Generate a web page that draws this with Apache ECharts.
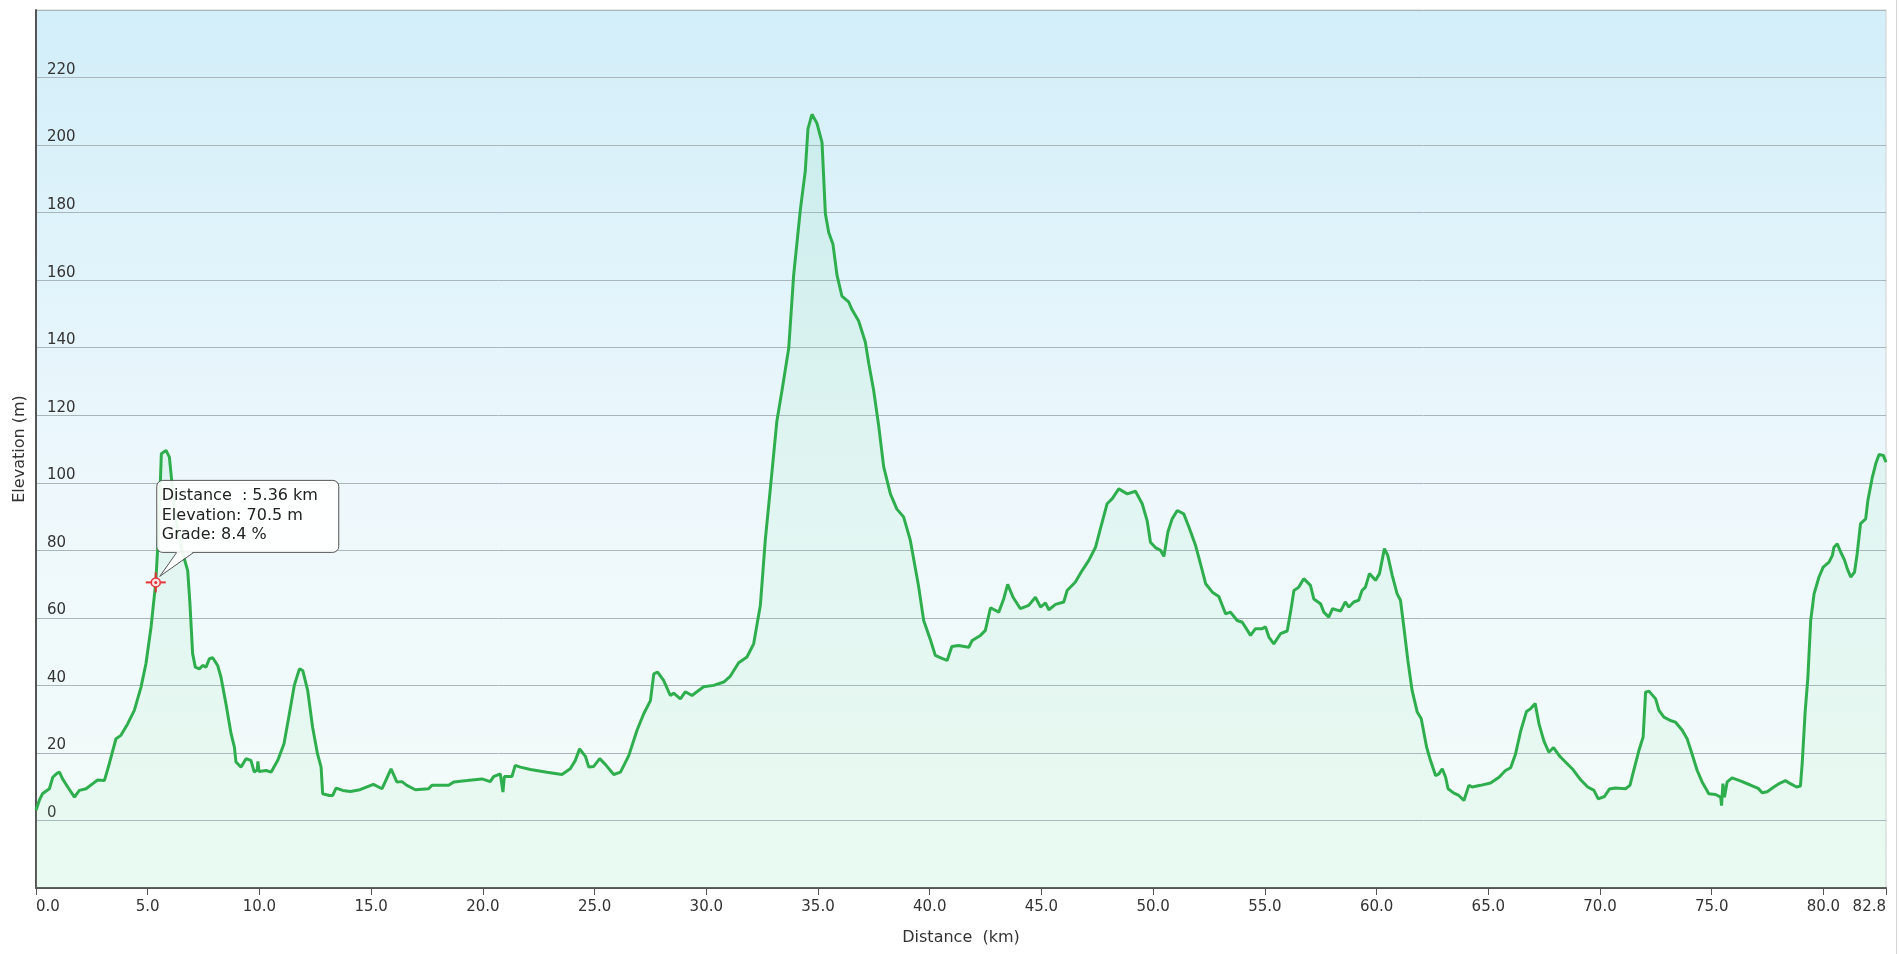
<!DOCTYPE html>
<html>
<head>
<meta charset="utf-8">
<title>Elevation profile</title>
<script src="https://cdn.jsdelivr.net/npm/echarts@6.0.0/dist/echarts.min.js"></script>
<style>
  html, body { margin: 0; padding: 0; background: #fff; }
  #main { width: 1900px; height: 954px; }
</style>
</head>
<body>
<div id="main"></div>
<script>
// distance along the route (km) and elevation (m)
const distanceKm = [
  0, 0.15, 0.3, 0.6, 0.75, 0.95, 1.05, 1.19, 1.42, 1.72, 1.94, 2.24, 2.54, 2.76, 3.06, 3.28, 3.58, 3.8, 4.1, 4.4,
  4.7, 4.92, 5.15, 5.36, 5.49, 5.61, 5.82, 5.97, 6.09, 6.2, 6.4, 6.57, 6.79, 6.89, 7.01, 7.13, 7.31, 7.46, 7.61, 7.76,
  7.91, 8.13, 8.28, 8.5, 8.73, 8.88, 8.95, 9.18, 9.4, 9.62, 9.77, 9.9, 9.93, 9.98, 10.3, 10.52, 10.82, 11.1, 11.34, 11.56,
  11.79, 11.94, 12.16, 12.38, 12.6, 12.76, 12.83, 13.13, 13.28, 13.43, 13.73, 14.07, 14.5, 15.1, 15.49, 15.89, 16.15, 16.38, 16.6, 16.98,
  17.57, 17.72, 18.47, 18.7, 19.29, 19.96, 20.33, 20.48, 20.78, 20.9, 20.96, 21.3, 21.45, 21.68, 22.13, 22.87, 23.54, 23.91, 24.14, 24.33,
  24.59, 24.74, 24.96, 25.23, 25.48, 25.86, 26.16, 26.53, 26.9, 27.2, 27.5, 27.65, 27.82, 28.09, 28.39, 28.54, 28.84, 29.06, 29.36, 29.58,
  29.88, 30.33, 30.78, 31.07, 31.45, 31.82, 32.12, 32.42, 32.64, 32.86, 33.16, 33.39, 33.69, 33.91, 34.21, 34.43, 34.55, 34.73, 34.95, 35.18,
  35.33, 35.48, 35.67, 35.85, 36.07, 36.37, 36.52, 36.82, 37.12, 37.27, 37.49, 37.71, 37.94, 38.24, 38.53, 38.83, 39.13, 39.5, 39.73, 40.03,
  40.25, 40.55, 40.78, 40.99, 41.29, 41.75, 41.9, 42.27, 42.49, 42.72, 43.09, 43.31, 43.49, 43.73, 44.06, 44.43, 44.73, 44.96, 45.18, 45.33,
  45.63, 46.0, 46.15, 46.52, 46.82, 47.12, 47.42, 47.64, 47.94, 48.17, 48.46, 48.84, 49.21, 49.51, 49.73, 49.88, 50.1, 50.33, 50.48, 50.66,
  50.85, 51.08, 51.37, 51.6, 51.9, 52.12, 52.35, 52.65, 52.94, 53.24, 53.46, 53.76, 53.99, 54.36, 54.58, 54.88, 55.03, 55.18, 55.4, 55.7,
  56.0, 56.15, 56.3, 56.52, 56.74, 57.04, 57.19, 57.49, 57.64, 57.86, 58.03, 58.39, 58.6, 58.76, 58.98, 59.2, 59.35, 59.5, 59.68, 59.95,
  60.13, 60.35, 60.5, 60.7, 60.92, 61.07, 61.22, 61.4, 61.59, 61.82, 62.0, 62.24, 62.41, 62.64, 62.79, 62.94, 63.09, 63.2, 63.46, 63.68,
  63.91, 64.13, 64.28, 64.65, 65.1, 65.48, 65.77, 66.0, 66.22, 66.45, 66.71, 66.89, 67.1, 67.27, 67.49, 67.71, 67.92, 68.2, 68.53, 68.8,
  69.1, 69.45, 69.73, 69.92, 70.2, 70.42, 70.69, 71.14, 71.34, 71.51, 71.74, 71.93, 72.04, 72.19, 72.49, 72.64, 72.86, 73.15, 73.38, 73.68,
  73.9, 74.12, 74.35, 74.57, 74.87, 75.17, 75.4, 75.44, 75.5, 75.57, 75.69, 75.91, 76.28, 76.73, 77.08, 77.26, 77.48, 77.78, 78.04, 78.3,
  78.52, 78.8, 78.97, 79.05, 79.18, 79.3, 79.43, 79.58, 79.8, 79.99, 80.25, 80.4, 80.47, 80.62, 80.77, 80.95, 81.07, 81.22, 81.39, 81.51,
  81.66, 81.89, 81.99, 82.19, 82.34, 82.49, 82.68, 82.8
];
const elevationM = [
  3, 6, 8, 9.4, 12.8, 14.0, 14.3, 12.3, 9.9, 6.9, 8.9, 9.4, 10.9, 12.0, 11.8, 16.8, 24.2, 25.2, 28.6, 32.6,
  39.5, 46.4, 57.3, 70.5, 85.9, 108.6, 109.6, 107.6, 99.5, 92, 84, 79, 74, 64.2, 49.4, 45.4, 44.9, 45.9, 45.4, 47.9,
  48.2, 45.9, 42.4, 34.6, 25.7, 21.7, 17.3, 15.8, 18.3, 17.8, 14.3, 15, 17.5, 14.5, 14.8, 14.3, 17.8, 22.7, 31.6, 40.0,
  44.9, 44.4, 38.5, 27.6, 19.7, 15.8, 7.9, 7.4, 7.4, 9.6, 8.9, 8.6, 9.1, 10.7, 9.4, 15.3, 11.4, 11.5, 10.4, 9.1,
  9.4, 10.4, 10.4, 11.4, 11.8, 12.3, 11.5, 13.0, 13.8, 8.4, 13.0, 13.0, 16.3, 15.8, 15.1, 14.3, 13.6, 15.3, 17.8, 21.2,
  19.0, 15.8, 16.0, 18.3, 16.6, 13.6, 14.3, 19.2, 26.7, 31.6, 35.5, 43.4, 43.9, 41.5, 37.0, 37.7, 36.0, 38.1, 37.0, 38.1,
  39.6, 40, 41.0, 42.7, 46.7, 48.4, 52.3, 63.7, 83.0, 97.8, 118.3, 127.4, 139.9, 161.5, 180.9, 192.3, 204.8, 209.1, 206.5, 200.8,
  179.7, 174.1, 170.6, 161.5, 155.3, 153.6, 151.3, 147.9, 141.6, 135.4, 127.4, 117.2, 104.7, 96.7, 92.2, 89.9, 83.0, 69.4, 59.2, 53.5,
  48.9, 48.0, 47.4, 51.5, 51.8, 51.3, 53.3, 54.8, 56.3, 63.0, 61.7, 65.6, 69.9, 66.1, 62.7, 63.7, 66.1, 63.2, 64.4, 62.4,
  64.0, 64.7, 68.1, 70.6, 74.0, 77.0, 80.9, 86.4, 93.8, 95.3, 98.2, 96.7, 97.5, 93.8, 88.8, 82.4, 80.8, 80.0, 78.2, 85.4,
  89.3, 91.8, 90.8, 86.9, 81.4, 76.0, 70.1, 67.6, 66.3, 61.2, 61.7, 59.2, 58.7, 54.8, 56.8, 56.8, 57.3, 54.3, 52.3, 55.3,
  56.1, 61.7, 68.1, 69.1, 71.6, 69.6, 65.6, 64.2, 61.7, 60.2, 62.7, 62.0, 64.7, 63.2, 64.7, 65.2, 68.1, 69.1, 73.1, 71.1,
  73.1, 80.5, 78.5, 72.6, 67.1, 65.2, 57.3, 47.4, 38.5, 32.1, 30.1, 21.7, 17.8, 13.3, 13.8, 15.3, 12.8, 9.4, 8.1, 7.4,
  5.9, 10.4, 9.9, 10.4, 11.1, 12.8, 14.8, 15.6, 19.7, 26.5, 32.3, 33.1, 34.6, 28.6, 23.5, 20.2, 21.6, 19.0, 16.8, 15.0,
  12.3, 9.9, 8.9, 6.4, 7.1, 9.3, 9.6, 9.4, 10.4, 14.8, 20.7, 24.7, 38.0, 38.3, 36.0, 32.6, 30.6, 29.6, 29.1, 26.7,
  24.2, 19.7, 14.8, 11.4, 7.9, 7.7, 6.9, 4.4, 10.9, 6.9, 11.4, 12.6, 11.7, 10.5, 9.5, 8.2, 8.5, 9.9, 11.0, 11.8,
  10.9, 9.9, 10.2, 17, 32, 42, 59.2, 67.1, 72.1, 75.0, 76.5, 78.5, 80.9, 81.9, 79.5, 77.0, 74.5, 72.1, 73.5, 79.0,
  87.9, 89.3, 94.8, 101.7, 105.6, 108.4, 108.1, 106.1
];

// hover readout shown on the chart
const tipDistance = 5.36;
const tipElevation = 70.5;
const tipGrade = 8.4;

const FONT = 'DejaVu Sans, Verdana, sans-serif';
const chart = echarts.init(document.getElementById('main'));

chart.setOption({
  animation: false,
  backgroundColor: '#fff',
  textStyle: { fontFamily: FONT },
  grid: {
    left: 36, right: 14, top: 10, bottom: 66,
    show: true,
    borderColor: '#cfcfcf',
    borderWidth: 1,
    backgroundColor: new echarts.graphic.LinearGradient(0, 0, 0, 1, [
      { offset: 0, color: '#d2eef9' },
      { offset: 0.55, color: '#eef8fc' },
      { offset: 1, color: '#f3fcf8' }
    ])
  },
  xAxis: {
    type: 'value',
    min: 0,
    max: 82.8,
    interval: 5,
    name: 'Distance  (km)',
    nameLocation: 'middle',
    nameGap: 42,
    nameTextStyle: { fontSize: 16, color: '#333', fontFamily: FONT },
    axisLine: { show: true, onZero: false, lineStyle: { color: '#555', width: 2 } },
    axisTick: { show: true, length: 7, lineStyle: { color: '#555', width: 1 } },
    axisLabel: {
      fontSize: 15, color: '#333', margin: 12, fontFamily: FONT,
      showMaxLabel: true,
      alignMinLabel: 'left',
      alignMaxLabel: 'right',
      formatter: v => v.toFixed(1)
    },
    splitLine: { show: false }
  },
  yAxis: {
    type: 'value',
    min: -20,
    max: 240,
    interval: 20,
    name: 'Elevation (m)',
    nameLocation: 'middle',
    nameGap: 6,
    nameRotate: 90,
    nameTextStyle: { fontSize: 16, color: '#333', fontFamily: FONT },
    axisLine: { show: true, lineStyle: { color: '#555', width: 2 } },
    axisTick: { show: false },
    axisLabel: {
      inside: true,
      margin: 11,
      fontSize: 15,
      color: '#333',
      fontFamily: FONT,
      verticalAlign: 'bottom',
      showMinLabel: false,
      showMaxLabel: false
    },
    splitLine: { show: true, lineStyle: { color: '#a9b6bc', width: 1 } }
  },
  series: [{
    type: 'line',
    data: distanceKm.map((d, i) => [d, elevationM[i]]),
    showSymbol: false,
    smooth: false,
    lineStyle: { color: '#2fae4e', width: 3 },
    areaStyle: {
      origin: 'start',
      color: new echarts.graphic.LinearGradient(0, 0, 0, 1, [
        { offset: 0, color: 'rgba(120, 215, 160, 0.20)' },
        { offset: 1, color: 'rgba(140, 230, 170, 0.14)' }
      ])
    }
  }]
});

// callout box + crosshair at the hovered point, placed through the axes
const p = chart.convertToPixel({ gridIndex: 0 }, [tipDistance, tipElevation]);
const bx = p[0] + 1, by = p[1] - 102, bw = 182, bh = 72;
chart.setOption({
  graphic: [
    {
      type: 'rect', z: 100,
      shape: { x: bx, y: by, width: bw, height: bh, r: 6 },
      style: { fill: 'rgba(255,255,255,0.92)', stroke: '#555', lineWidth: 1 }
    },
    {
      type: 'polygon', z: 101,
      shape: { points: [[p[0] + 21, by + bh - 1], [p[0] + 4, p[1] - 6], [p[0] + 38, by + bh - 1]] },
      style: { fill: 'rgba(255,255,255,0.92)' }
    },
    {
      type: 'polyline', z: 102,
      shape: { points: [[p[0] + 21, by + bh], [p[0] + 4, p[1] - 6], [p[0] + 38, by + bh]] },
      style: { stroke: '#555', lineWidth: 1, fill: null }
    },
    {
      type: 'text', z: 103,
      x: bx + 5, y: by + 6,
      style: {
        text: 'Distance  : ' + tipDistance.toFixed(2) + ' km\nElevation: ' + tipElevation.toFixed(1) +
              ' m\nGrade: ' + tipGrade.toFixed(1) + ' %',
        font: '16px ' + FONT,
        fill: '#222',
        lineHeight: 19.5
      }
    },
    // red target marker
    {
      type: 'line', z: 104,
      shape: { x1: p[0] - 10, y1: p[1], x2: p[0] + 10, y2: p[1] },
      style: { stroke: '#e8323a', lineWidth: 2 }
    },
    {
      type: 'line', z: 104,
      shape: { x1: p[0], y1: p[1] - 10, x2: p[0], y2: p[1] + 10 },
      style: { stroke: '#e8323a', lineWidth: 2 }
    },
    {
      type: 'circle', z: 105,
      shape: { cx: p[0], cy: p[1], r: 4.5 },
      style: { fill: '#fde2e4', stroke: '#e8323a', lineWidth: 1.5 }
    },
    {
      type: 'circle', z: 106,
      shape: { cx: p[0], cy: p[1], r: 1.5 },
      style: { fill: '#e8323a' }
    },
    // thin frame at the right edge of the page
    {
      type: 'rect', z: 1,
      shape: { x: 1896, y: 0, width: 1, height: 954 },
      style: { fill: '#d4d4d4' }
    }
  ]
});
</script>
</body>
</html>
